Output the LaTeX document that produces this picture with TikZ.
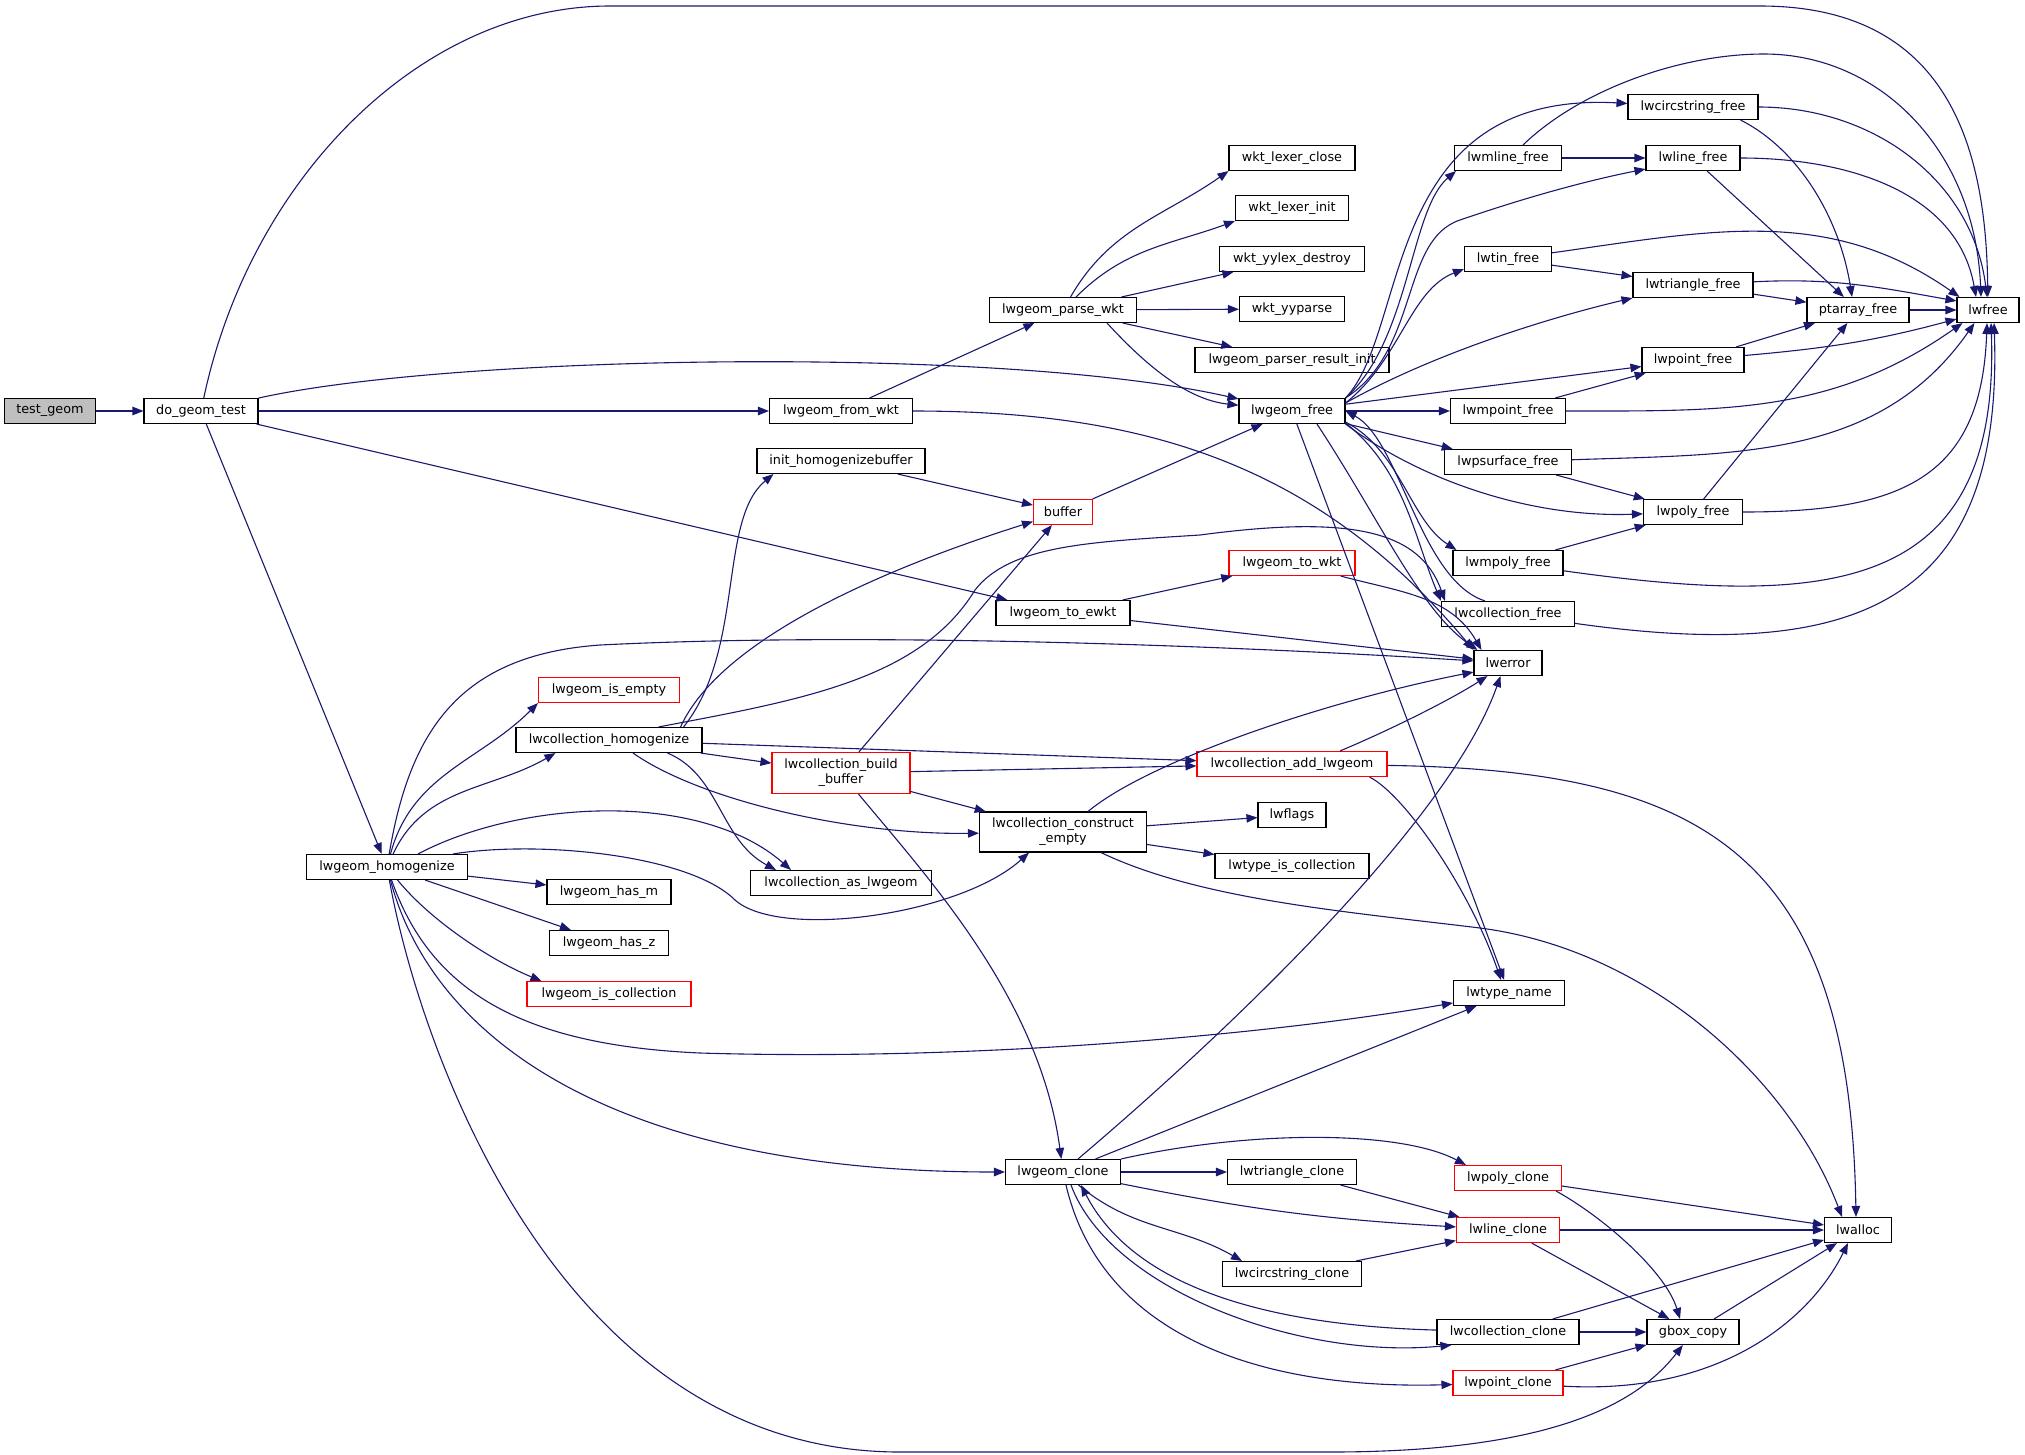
\documentclass[tikz,border=0pt]{standalone}
\usepackage{fontspec}
\setmainfont{DejaVu Sans}
\usepackage{tikz}
\usetikzlibrary{arrows.meta}
\definecolor{callblue}{HTML}{191970}
\definecolor{rootgray}{HTML}{BFBFBF}
\tikzset{
		func/.style = {draw, rectangle, line width=1.1pt, inner sep=0pt, minimum height=25pt, font=\fontsize{12.8}{15}\selectfont},
		incomplete/.style = {func, draw=red},
		root/.style = {func, fill=rootgray},
		call/.style = {->, draw=callblue, line width=1.1pt}
	}
\begin{document}
\begin{tikzpicture}[>={Triangle[length=11pt,width=8.5pt]}, x=1pt, y=1pt, every edge/.style={draw=callblue, line width=1.1pt}]
				\useasboundingbox (0,0) rectangle (2025,-1454);

				\node[root,       minimum width=91pt]  (test)       at (50,-411)    {test\_geom};
				\node[func,       minimum width=114pt] (dogt)       at (201,-411)   {do\_geom\_test};
				\node[func,       minimum width=161pt] (homog)      at (387,-867)   {lwgeom\_homogenize};
				\node[incomplete, minimum width=141pt] (isempty)    at (609,-690)   {lwgeom\_is\_empty};
				\node[func,       minimum width=186pt] (colhomog)   at (609,-740)   {lwcollection\_homogenize};
				\node[func,       minimum width=124pt] (hasm)       at (609,-892)   {lwgeom\_has\_m};
				\node[func,       minimum width=119pt] (hasz)       at (609,-943)   {lwgeom\_has\_z};
				\node[incomplete, minimum width=164pt] (iscoll)     at (609,-994)   {lwgeom\_is\_collection};
				\node[func,       minimum width=143pt] (fromwkt)    at (841,-411)   {lwgeom\_from\_wkt};
				\node[func,       minimum width=168pt] (initbuf)    at (841,-461)   {init\_homogenizebuffer};
				\node[incomplete, minimum width=138pt, minimum height=41pt, align=center] (buildbuf) at (841,-773) {lwcollection\_build\\\_buffer};
				\node[func,       minimum width=181pt] (asgeom)     at (841,-883)   {lwcollection\_as\_lwgeom};
				\node[func,       minimum width=147pt] (parse)      at (1063,-310)  {lwgeom\_parse\_wkt};
				\node[incomplete, minimum width=59pt]  (buffer)     at (1063,-512)  {buffer};
				\node[func,       minimum width=134pt] (toewkt)     at (1063,-613)  {lwgeom\_to\_ewkt};
				\node[func,       minimum width=167pt, minimum height=40pt, align=center] (constr) at (1063,-832) {lwcollection\_construct\\\_empty};
				\node[func,       minimum width=115pt] (clone)      at (1063,-1172) {lwgeom\_clone};
				\node[func,       minimum width=126pt] (lexclose)   at (1292,-158)  {wkt\_lexer\_close};
				\node[func,       minimum width=113pt] (lexinit)    at (1292,-208)  {wkt\_lexer\_init};
				\node[func,       minimum width=145pt] (yylexd)     at (1292,-259)  {wkt\_yylex\_destroy};
				\node[func,       minimum width=105pt] (yyparse)    at (1292,-309)  {wkt\_yyparse};
				\node[func,       minimum width=194pt] (resinit)    at (1292,-360)  {lwgeom\_parser\_result\_init};
				\node[func,       minimum width=106pt] (free)       at (1292,-411)  {lwgeom\_free};
				\node[incomplete, minimum width=126pt] (towkt)      at (1292,-563)  {lwgeom\_to\_wkt};
				\node[incomplete, minimum width=190pt] (addgeom)    at (1292,-764)  {lwcollection\_add\_lwgeom};
				\node[func,       minimum width=68pt]  (flags)      at (1292,-815)  {lwflags};
				\node[func,       minimum width=154pt] (istcoll)    at (1292,-866)  {lwtype\_is\_collection};
				\node[func,       minimum width=129pt] (triclone)   at (1292,-1172) {lwtriangle\_clone};
				\node[func,       minimum width=139pt] (circclone)  at (1292,-1274) {lwcircstring\_clone};
				\node[func,       minimum width=107pt] (mline)      at (1508,-158)  {lwmline\_free};
				\node[func,       minimum width=87pt]  (tin)        at (1508,-259)  {lwtin\_free};
				\node[func,       minimum width=115pt] (mpoint)     at (1508,-411)  {lwmpoint\_free};
				\node[func,       minimum width=127pt] (psurf)      at (1508,-462)  {lwpsurface\_free};
				\node[func,       minimum width=110pt] (mpoly)      at (1508,-563)  {lwmpoly\_free};
				\node[func,       minimum width=133pt] (colfree)    at (1508,-614)  {lwcollection\_free};
				\node[func,       minimum width=68pt]  (lwerror)    at (1508,-663)  {lwerror};
				\node[func,       minimum width=111pt] (typename)   at (1509,-993)  {lwtype\_name};
				\node[incomplete, minimum width=107pt] (polyclone)  at (1508,-1178) {lwpoly\_clone};
				\node[incomplete, minimum width=103pt] (lineclone)  at (1508,-1230) {lwline\_clone};
				\node[func,       minimum width=142pt] (colclone)   at (1508,-1332) {lwcollection\_clone};
				\node[incomplete, minimum width=110pt] (pointclone) at (1508,-1383) {lwpoint\_clone};
				\node[func,       minimum width=130pt] (circfree)   at (1693,-107)  {lwcircstring\_free};
				\node[func,       minimum width=94pt]  (linefree)   at (1693,-158)  {lwline\_free};
				\node[func,       minimum width=120pt] (trifree)    at (1693,-285)  {lwtriangle\_free};
				\node[func,       minimum width=102pt] (pointfree)  at (1693,-360)  {lwpoint\_free};
				\node[func,       minimum width=99pt]  (polyfree)   at (1693,-512)  {lwpoly\_free};
				\node[func,       minimum width=92pt]  (gbox)       at (1693,-1332) {gbox\_copy};
				\node[func,       minimum width=102pt] (ptarray)    at (1858,-310)  {ptarray\_free};
				\node[func,       minimum width=67pt]  (lwalloc)    at (1858,-1230) {lwalloc};
				\node[func,       minimum width=62pt]  (lwfree)     at (1988,-310)  {lwfree};

				\path[call] (test) edge (dogt);
				\draw[call] (dogt) .. controls (250,-180) and (420,-6) .. (610,-6) -- (1760,-6) .. controls (1950,-6) and (1986,-150) .. (lwfree);
				\draw[call] (dogt) .. controls (450,-355) and (1000,-345) .. (free);
				\path[call] (dogt) edge (fromwkt);
				\path[call] (dogt) edge (toewkt);
				\path[call] (dogt) edge (homog);

				\path[call] (fromwkt) edge (parse);
				\path[call] (fromwkt) edge [out=0,in=130] (lwerror.north west);
				\path[call] (parse) edge [out=60,in=215] (lexclose.south west);
				\path[call] (parse) edge [out=45,in=200] (lexinit.south west);
				\path[call] (parse) edge (yylexd);
				\path[call] (parse) edge (yyparse);
				\path[call] (parse) edge (resinit);
				\draw[call] ([xshift=-30pt]parse.south east) .. controls (1150,-370) and (1190,-400) .. (free);

				\path[call] (homog) edge [out=75,in=225] (isempty.south west);
				\path[call] (homog) edge [out=65,in=210] ([xshift=40pt]colhomog.south west);
				\path[call] (homog) edge (hasm);
				\path[call] (homog) edge (hasz);
				\draw[call] (homog) .. controls (430,-920) and (490,-960) .. ([xshift=15pt]iscoll.north west);
				\draw[call] (homog) .. controls (410,-730) and (460,-655) .. (600,-645) .. controls (900,-630) and (1300,-650) .. (lwerror);
				\draw[call] ([xshift=31pt]homog.north) .. controls (520,-800) and (700,-790) .. ([xshift=-50pt]asgeom.north);
				\draw[call] ([xshift=66pt]homog.north) .. controls (540,-840) and (690,-855) .. (735,-900) .. controls (780,-940) and (960,-915) .. ([xshift=-34pt]constr.south);
				\draw[call] (homog) .. controls (430,-990) and (520,-1045) .. (700,-1053) .. controls (1000,-1062) and (1300,-1030) .. (typename);
				\draw[call] (homog) .. controls (430,-1030) and (600,-1172) .. (clone);
				\draw[call] (homog) .. controls (420,-1050) and (560,-1452) .. (900,-1452) -- (1330,-1452) .. controls (1560,-1452) and (1640,-1400) .. (gbox);

				\draw[call] ([xshift=-44pt]colhomog.north east) .. controls (800,-700) and (920,-680) .. (975,-590) .. controls (1010,-545) and (1090,-542) .. (1200,-535) .. controls (1350,-515) and (1420,-530) .. ([xshift=4pt]colfree.north west);
				\draw[call] ([xshift=-22pt]colhomog.north east) .. controls (720,-640) and (880,-570) .. (buffer);
				\draw[call] ([xshift=-19pt]colhomog.north east) .. controls (745,-650) and (718,-520) .. ([xshift=17pt]initbuf.south west);
				\path[call] (colhomog) edge (addgeom);
				\path[call] (colhomog) edge (buildbuf);
				\draw[call] ([xshift=24pt]colhomog.south) .. controls (700,-800) and (850,-835) .. (constr);
				\draw[call] ([xshift=-35pt]colhomog.south east) .. controls (720,-775) and (720,-840) .. ([xshift=-65pt]asgeom.north);

				\path[call] (buildbuf) edge (buffer);
				\path[call] (buildbuf) edge (addgeom);
				\path[call] (buildbuf) edge (constr);
				\draw[call] (buildbuf) .. controls (930,-880) and (1040,-1000) .. (clone);

				\path[call] (initbuf) edge (buffer);
				\path[call] (buffer) edge (free);
				\path[call] (toewkt) edge (towkt);
				\path[call] (toewkt) edge (lwerror);
				\path[call] (towkt) edge [out=-15,in=120] ([xshift=8pt]lwerror.north west);

				\draw[call] ([xshift=48pt]addgeom.north) .. controls (1390,-730) and (1450,-700) .. ([xshift=14pt]lwerror.south west);
				\draw[call] ([xshift=-18pt]addgeom.south east) .. controls (1405,-795) and (1470,-890) .. ([xshift=-8pt]typename.north);
				\draw[call] (addgeom) .. controls (1700,-770) and (1850,-850) .. ([xshift=-2pt]lwalloc.north);

				\draw[call] ([xshift=25pt]constr.north) .. controls (1150,-760) and (1330,-700) .. ([yshift=4pt]lwerror.south west);
				\path[call] (constr) edge (flags);
				\path[call] (constr) edge (istcoll);
				\draw[call] ([xshift=38pt]constr.south) .. controls (1200,-900) and (1350,-912) .. (1480,-928) .. controls (1650,-950) and (1790,-1080) .. ([xshift=-16pt]lwalloc.north);

				\draw[call] ([xshift=15pt]clone.north) .. controls (1230,-1030) and (1450,-820) .. ([xshift=27pt]lwerror.south west);
				\path[call] (clone) edge (typename);
				\path[call] (clone) edge (triclone);
				\draw[call] (clone.north east) .. controls (1250,-1130) and (1400,-1130) .. ([xshift=12pt]polyclone.north west);
				\path[call] (clone) edge [bend right=4] (lineclone);
				\path[call] (clone) edge [out=-40,in=150] ([xshift=20pt]circclone.north west);
				\draw[call] ([xshift=8pt]clone.south) .. controls (1110,-1290) and (1300,-1360) .. ([xshift=15pt]colclone.south west);
				\draw[call] (colclone) .. controls (1250,-1325) and (1130,-1280) .. ([xshift=18pt]clone.south);
				\draw[call] ([xshift=3pt]clone.south) .. controls (1100,-1330) and (1250,-1390) .. (pointclone);

				\path[call] (triclone) edge (lineclone);
				\path[call] (circclone) edge (lineclone);
				\path[call] (polyclone) edge (lwalloc);
				\draw[call] ([xshift=-6pt]polyclone.south east) .. controls (1600,-1215) and (1665,-1270) .. ([xshift=-13pt]gbox.north);
				\path[call] (lineclone) edge (lwalloc);
				\path[call] (lineclone) edge (gbox);
				\path[call] (colclone) edge (gbox);
				\path[call] (colclone) edge (lwalloc);
				\path[call] (pointclone) edge (gbox);
				\draw[call] (pointclone) .. controls (1720,-1395) and (1810,-1320) .. ([xshift=-10pt]lwalloc.south);
				\path[call] (gbox) edge (lwalloc);

				\draw[call] (free.north east) .. controls (1410,-330) and (1380,-90) .. (circfree);
				\draw[call] (free.north east) .. controls (1410,-340) and (1410,-210) .. ([xshift=2pt]mline.south west);
				\draw[call] (free.north east) .. controls (1420,-350) and (1400,-240) .. (1460,-220) .. controls (1530,-196) and (1590,-180) .. ([yshift=2pt]linefree.south west);
				\draw[call] ([yshift=-5pt]free.north east) .. controls (1400,-360) and (1410,-290) .. ([yshift=3pt]tin.south west);
				\draw[call] ([yshift=-5pt]free.north east) .. controls (1440,-350) and (1560,-315) .. (trifree.south west);
				\path[call] (free) edge (pointfree);
				\path[call] (free) edge (mpoint);
				\path[call] (free) edge (psurf);
				\draw[call] (free.south east) .. controls (1420,-480) and (1530,-518) .. (polyfree);
				\draw[call] ([yshift=2pt]free.south east) .. controls (1400,-450) and (1410,-520) .. ([xshift=4pt]mpoly.north west);
				\draw[call] ([yshift=1pt]free.south east) .. controls (1405,-470) and (1415,-540) .. (colfree.north west);
				\draw[call] ([xshift=-23pt]colfree.north) .. controls (1420,-580) and (1400,-440) .. (free.east);
				\draw[call] ([xshift=25pt]free.south) .. controls (1380,-520) and (1420,-610) .. ([xshift=4pt]lwerror.north west);
				\path[call] (free) edge (typename);

				\path[call] (mline) edge (linefree);
				\draw[call] ([xshift=15pt]mline.north) .. controls (1580,-90) and (1680,-54) .. (1764,-54) .. controls (1880,-54) and (1975,-150) .. ([xshift=-7pt]lwfree.north);
				\path[call] (circfree) edge [out=0,in=97] ([xshift=-1pt]lwfree.north);
				\draw[call] ([xshift=-18pt]circfree.south east) .. controls (1800,-150) and (1840,-220) .. ([xshift=-6pt]ptarray.north);
				\path[call] (linefree) edge [out=0,in=100] ([xshift=-12pt]lwfree.north);
				\path[call] (linefree) edge (ptarray);
				\path[call] (tin) edge [out=8,in=145] ([xshift=3pt]lwfree.north west);
				\path[call] (tin) edge (trifree);
				\path[call] (trifree) edge [out=3,in=170] ([yshift=-4pt]lwfree.north west);
				\path[call] (trifree) edge (ptarray);
				\path[call] (ptarray) edge (lwfree);
				\path[call] (pointfree) edge (ptarray);
				\path[call] (pointfree) edge [out=5,in=195] ([yshift=4pt]lwfree.south west);
				\path[call] (mpoint) edge (pointfree);
				\path[call] (mpoint) edge [out=0,in=215] ([xshift=6pt]lwfree.south west);
				\path[call] (psurf) edge [out=2,in=235] ([xshift=18pt]lwfree.south west);
				\path[call] (psurf) edge (polyfree);
				\path[call] (polyfree) edge (ptarray);
				\path[call] (polyfree) edge [out=0,in=-92,looseness=1.3] ([xshift=-1pt]lwfree.south);
				\path[call] (mpoly) edge (polyfree);
				\path[call] (mpoly) edge [out=-8,in=-88,looseness=1.4] ([xshift=3pt]lwfree.south);
				\path[call] (colfree) edge [out=-8,in=-88,looseness=1.4] ([xshift=6pt]lwfree.south);
			\end{tikzpicture}
\end{document}
